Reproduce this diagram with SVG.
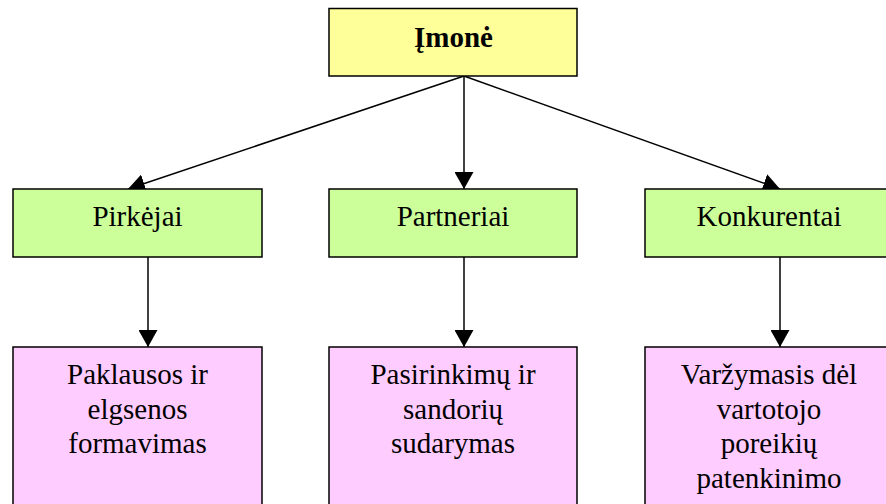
<svg xmlns="http://www.w3.org/2000/svg" width="886" height="504" viewBox="0 0 886 504">
<style>
.box{stroke:#000;stroke-width:1.5}
.top{fill:#FFFF99}
.mid{fill:#CCFF99}
.bot{fill:#FFCCFF}
text{font-family:'Liberation Serif','DejaVu Serif',serif;font-size:29px;fill:#000;text-anchor:middle}
.b{font-weight:bold}
.c{stroke:#000;stroke-width:1.5;fill:none}
</style>
<defs>
<marker id="ah" markerUnits="userSpaceOnUse" markerWidth="18" markerHeight="19" refX="17" refY="9.5" orient="auto">
<path d="M0,0 L17,9.5 L0,19 Z" fill="#000"/>
</marker>
</defs>
<rect width="886" height="504" fill="#fff"/>
<g id="connectors">
<line class="c" x1="464" y1="76" x2="128" y2="189" marker-end="url(#ah)"/>
<line class="c" x1="464" y1="76" x2="464" y2="189" marker-end="url(#ah)"/>
<line class="c" x1="464" y1="76" x2="780" y2="189" marker-end="url(#ah)"/>
<line class="c" x1="148" y1="257" x2="148" y2="347" marker-end="url(#ah)"/>
<line class="c" x1="464" y1="257" x2="464" y2="347" marker-end="url(#ah)"/>
<line class="c" x1="780" y1="257" x2="780" y2="347" marker-end="url(#ah)"/>
</g>
<g id="imone">
<rect class="box top" x="329" y="8.5" width="248" height="67.5"/>
<text class="b" x="453.5" y="47" font-family="Liberation Serif, serif">Įmonė</text>
</g>
<g id="pirkejai">
<rect class="box mid" x="13" y="189" width="249" height="68"/>
<text x="137.5" y="226" font-family="Liberation Serif, serif">Pirkėjai</text>
</g>
<g id="partneriai">
<rect class="box mid" x="329" y="189" width="248" height="68"/>
<text x="453" y="226" font-family="Liberation Serif, serif">Partneriai</text>
</g>
<g id="konkurentai">
<rect class="box mid" x="645" y="189" width="248" height="68"/>
<text x="769" y="226" font-family="Liberation Serif, serif">Konkurentai</text>
</g>
<g id="paklausos">
<rect class="box bot" x="13" y="347" width="249" height="170"/>
<text x="137.5" y="384" font-family="Liberation Serif, serif">Paklausos ir</text>
<text x="137.5" y="419" font-family="Liberation Serif, serif">elgsenos</text>
<text x="137.5" y="453" font-family="Liberation Serif, serif">formavimas</text>
</g>
<g id="pasirinkimu">
<rect class="box bot" x="329" y="347" width="248" height="170"/>
<text x="453" y="384" font-family="Liberation Serif, serif">Pasirinkimų ir</text>
<text x="453" y="419" font-family="Liberation Serif, serif">sandorių</text>
<text x="453" y="453" font-family="Liberation Serif, serif">sudarymas</text>
</g>
<g id="varzymasis">
<rect class="box bot" x="645" y="347" width="248" height="170"/>
<text x="769" y="384" font-family="Liberation Serif, serif">Varžymasis dėl</text>
<text x="769" y="419" font-family="Liberation Serif, serif">vartotojo</text>
<text x="769" y="453" font-family="Liberation Serif, serif">poreikių</text>
<text x="769" y="488" font-family="Liberation Serif, serif">patenkinimo</text>
</g>
</svg>
